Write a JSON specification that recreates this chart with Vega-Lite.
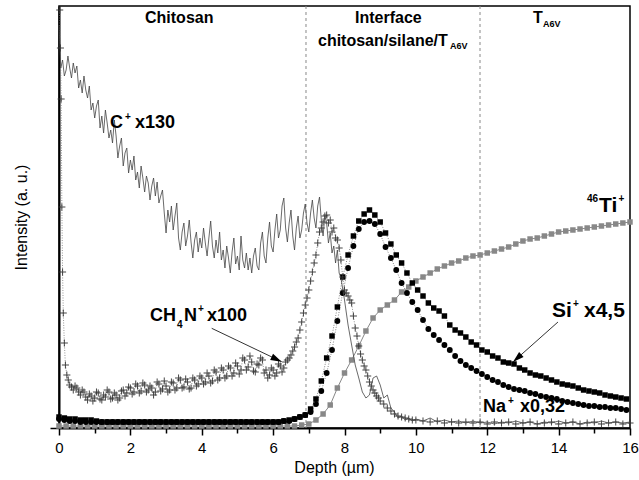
{
"$schema":"https://vega.github.io/schema/vega-lite/v6.json",
"width":571,"height":422,
"autosize":{"type":"none"},
"padding":{"left":59,"top":6,"right":9,"bottom":52},
"background":"white",
"config":{"view":{"stroke":"black","strokeWidth":1.5},"font":"Liberation Sans","text":{"font":"Liberation Sans"}},
"datasets":{
"cplus":[{"x":0,"y":403},{"x":0.05,"y":360},{"x":0.1,"y":368},{"x":0.15,"y":352},{"x":0.2,"y":358},{"x":0.25,"y":372},{"x":0.3,"y":360},{"x":0.35,"y":350},{"x":0.4,"y":365},{"x":0.45,"y":355},{"x":0.5,"y":362},{"x":0.55,"y":340},{"x":0.6,"y":348},{"x":0.65,"y":335},{"x":0.7,"y":352},{"x":0.75,"y":338},{"x":0.8,"y":330},{"x":0.85,"y":342},{"x":0.9,"y":318},{"x":0.95,"y":325},{"x":1.0,"y":310},{"x":1.05,"y":322},{"x":1.1,"y":328},{"x":1.15,"y":300},{"x":1.2,"y":312},{"x":1.25,"y":295},{"x":1.3,"y":318},{"x":1.35,"y":305},{"x":1.4,"y":290},{"x":1.45,"y":298},{"x":1.5,"y":285},{"x":1.55,"y":308},{"x":1.6,"y":292},{"x":1.65,"y":270},{"x":1.7,"y":282},{"x":1.75,"y":290},{"x":1.8,"y":262},{"x":1.85,"y":275},{"x":1.9,"y":280},{"x":1.95,"y":255},{"x":2.0,"y":268},{"x":2.05,"y":258},{"x":2.1,"y":272},{"x":2.15,"y":248},{"x":2.2,"y":256},{"x":2.25,"y":240},{"x":2.3,"y":262},{"x":2.35,"y":250},{"x":2.4,"y":236},{"x":2.45,"y":252},{"x":2.5,"y":245},{"x":2.55,"y":228},{"x":2.6,"y":242},{"x":2.65,"y":250},{"x":2.7,"y":232},{"x":2.75,"y":246},{"x":2.8,"y":225},{"x":2.85,"y":232},{"x":2.9,"y":238},{"x":2.95,"y":215},{"x":3.0,"y":195},{"x":3.05,"y":218},{"x":3.1,"y":206},{"x":3.15,"y":222},{"x":3.2,"y":198},{"x":3.25,"y":212},{"x":3.3,"y":225},{"x":3.35,"y":190},{"x":3.4,"y":178},{"x":3.45,"y":196},{"x":3.5,"y":205},{"x":3.55,"y":182},{"x":3.6,"y":192},{"x":3.65,"y":208},{"x":3.7,"y":186},{"x":3.75,"y":170},{"x":3.8,"y":188},{"x":3.85,"y":196},{"x":3.9,"y":176},{"x":3.95,"y":190},{"x":4.0,"y":180},{"x":4.05,"y":200},{"x":4.1,"y":185},{"x":4.15,"y":172},{"x":4.2,"y":190},{"x":4.25,"y":207},{"x":4.3,"y":182},{"x":4.35,"y":170},{"x":4.4,"y":188},{"x":4.45,"y":175},{"x":4.5,"y":196},{"x":4.55,"y":168},{"x":4.6,"y":178},{"x":4.65,"y":160},{"x":4.7,"y":182},{"x":4.75,"y":170},{"x":4.8,"y":155},{"x":4.85,"y":176},{"x":4.9,"y":190},{"x":4.95,"y":164},{"x":5.0,"y":172},{"x":5.05,"y":158},{"x":5.1,"y":192},{"x":5.15,"y":168},{"x":5.2,"y":160},{"x":5.25,"y":175},{"x":5.3,"y":158},{"x":5.35,"y":170},{"x":5.4,"y":155},{"x":5.45,"y":172},{"x":5.5,"y":180},{"x":5.55,"y":162},{"x":5.6,"y":158},{"x":5.65,"y":185},{"x":5.7,"y":196},{"x":5.75,"y":172},{"x":5.8,"y":165},{"x":5.85,"y":190},{"x":5.9,"y":206},{"x":5.95,"y":182},{"x":6.0,"y":176},{"x":6.05,"y":198},{"x":6.1,"y":214},{"x":6.15,"y":190},{"x":6.2,"y":198},{"x":6.25,"y":222},{"x":6.3,"y":230},{"x":6.35,"y":200},{"x":6.4,"y":186},{"x":6.45,"y":205},{"x":6.5,"y":218},{"x":6.55,"y":192},{"x":6.6,"y":178},{"x":6.65,"y":200},{"x":6.7,"y":212},{"x":6.75,"y":190},{"x":6.8,"y":198},{"x":6.85,"y":215},{"x":6.9,"y":224},{"x":6.95,"y":205},{"x":7.0,"y":196},{"x":7.05,"y":215},{"x":7.1,"y":228},{"x":7.15,"y":210},{"x":7.2,"y":200},{"x":7.25,"y":222},{"x":7.3,"y":231},{"x":7.35,"y":208},{"x":7.4,"y":192},{"x":7.45,"y":212},{"x":7.5,"y":205},{"x":7.55,"y":185},{"x":7.6,"y":195},{"x":7.65,"y":175},{"x":7.7,"y":182},{"x":7.75,"y":165},{"x":7.8,"y":178},{"x":7.85,"y":155},{"x":7.9,"y":150},{"x":8.0,"y":128},{"x":8.1,"y":103},{"x":8.2,"y":83},{"x":8.3,"y":63},{"x":8.4,"y":50},{"x":8.5,"y":36},{"x":8.6,"y":30},{"x":8.7,"y":33},{"x":8.8,"y":50},{"x":8.9,"y":52},{"x":9.0,"y":43},{"x":9.1,"y":30},{"x":9.2,"y":33},{"x":9.3,"y":20},{"x":9.4,"y":16},{"x":9.5,"y":10},{"x":9.6,"y":12},{"x":9.7,"y":8},{"x":9.8,"y":10},{"x":9.9,"y":7},{"x":10.0,"y":9},{"x":10.2,"y":7},{"x":10.4,"y":10},{"x":10.6,"y":6},{"x":10.8,"y":8},{"x":11.0,"y":6},{"x":11.2,"y":7},{"x":11.4,"y":5},{"x":11.6,"y":7},{"x":11.8,"y":5},{"x":12.0,"y":6},{"x":12.2,"y":4},{"x":12.4,"y":6},{"x":12.6,"y":5},{"x":12.8,"y":7},{"x":13.0,"y":5},{"x":13.2,"y":6},{"x":13.4,"y":4},{"x":13.6,"y":6},{"x":13.8,"y":5},{"x":14.0,"y":7},{"x":14.2,"y":5},{"x":14.4,"y":6},{"x":14.6,"y":4},{"x":14.8,"y":6},{"x":15.0,"y":5},{"x":15.2,"y":7},{"x":15.4,"y":5},{"x":15.6,"y":6},{"x":15.8,"y":5},{"x":16.0,"y":6}],
"ch4n":[{"x":0.02,"y":418},{"x":0.04,"y":380},{"x":0.06,"y":329},{"x":0.08,"y":221},{"x":0.1,"y":156},{"x":0.12,"y":115},{"x":0.15,"y":85},{"x":0.18,"y":63},{"x":0.22,"y":53},{"x":0.26,"y":48},{"x":0.3,"y":43},{"x":0.35,"y":41},{"x":0.4,"y":38},{"x":0.45,"y":42},{"x":0.5,"y":40},{"x":0.55,"y":36},{"x":0.6,"y":33},{"x":0.65,"y":38},{"x":0.7,"y":36},{"x":0.75,"y":31},{"x":0.8,"y":28},{"x":0.85,"y":34},{"x":0.9,"y":32},{"x":0.95,"y":27},{"x":1.0,"y":30},{"x":1.05,"y":36},{"x":1.1,"y":35},{"x":1.15,"y":29},{"x":1.2,"y":28},{"x":1.25,"y":33},{"x":1.3,"y":31},{"x":1.35,"y":38},{"x":1.4,"y":36},{"x":1.45,"y":29},{"x":1.5,"y":30},{"x":1.55,"y":35},{"x":1.6,"y":33},{"x":1.65,"y":28},{"x":1.7,"y":30},{"x":1.75,"y":37},{"x":1.8,"y":38},{"x":1.85,"y":32},{"x":1.9,"y":35},{"x":1.95,"y":41},{"x":2.0,"y":40},{"x":2.05,"y":34},{"x":2.1,"y":36},{"x":2.15,"y":44},{"x":2.2,"y":42},{"x":2.25,"y":35},{"x":2.3,"y":37},{"x":2.35,"y":45},{"x":2.4,"y":43},{"x":2.45,"y":36},{"x":2.5,"y":38},{"x":2.55,"y":42},{"x":2.6,"y":40},{"x":2.65,"y":33},{"x":2.7,"y":36},{"x":2.75,"y":46},{"x":2.8,"y":44},{"x":2.85,"y":37},{"x":2.9,"y":39},{"x":2.95,"y":47},{"x":3.0,"y":42},{"x":3.05,"y":36},{"x":3.1,"y":38},{"x":3.15,"y":46},{"x":3.2,"y":45},{"x":3.25,"y":38},{"x":3.3,"y":40},{"x":3.35,"y":50},{"x":3.4,"y":48},{"x":3.45,"y":40},{"x":3.5,"y":41},{"x":3.55,"y":49},{"x":3.6,"y":46},{"x":3.65,"y":39},{"x":3.7,"y":40},{"x":3.75,"y":50},{"x":3.8,"y":48},{"x":3.85,"y":42},{"x":3.9,"y":44},{"x":3.95,"y":52},{"x":4.0,"y":50},{"x":4.05,"y":44},{"x":4.1,"y":46},{"x":4.15,"y":55},{"x":4.2,"y":52},{"x":4.25,"y":45},{"x":4.3,"y":47},{"x":4.35,"y":58},{"x":4.4,"y":56},{"x":4.45,"y":48},{"x":4.5,"y":50},{"x":4.55,"y":60},{"x":4.6,"y":58},{"x":4.65,"y":50},{"x":4.7,"y":52},{"x":4.75,"y":62},{"x":4.8,"y":60},{"x":4.85,"y":52},{"x":4.9,"y":55},{"x":4.95,"y":65},{"x":5.0,"y":62},{"x":5.05,"y":54},{"x":5.1,"y":58},{"x":5.15,"y":70},{"x":5.2,"y":68},{"x":5.25,"y":58},{"x":5.3,"y":61},{"x":5.35,"y":72},{"x":5.4,"y":66},{"x":5.45,"y":57},{"x":5.5,"y":56},{"x":5.55,"y":64},{"x":5.6,"y":63},{"x":5.65,"y":70},{"x":5.7,"y":68},{"x":5.75,"y":55},{"x":5.8,"y":58},{"x":5.85,"y":50},{"x":5.9,"y":53},{"x":5.95,"y":60},{"x":6.0,"y":58},{"x":6.05,"y":52},{"x":6.1,"y":55},{"x":6.15,"y":64},{"x":6.2,"y":62},{"x":6.25,"y":56},{"x":6.3,"y":60},{"x":6.35,"y":66},{"x":6.4,"y":68},{"x":6.45,"y":70},{"x":6.5,"y":73},{"x":6.55,"y":77},{"x":6.6,"y":81},{"x":6.65,"y":86},{"x":6.7,"y":90},{"x":6.75,"y":98},{"x":6.8,"y":106},{"x":6.85,"y":115},{"x":6.9,"y":123},{"x":6.95,"y":130},{"x":7.0,"y":138},{"x":7.05,"y":147},{"x":7.1,"y":156},{"x":7.15,"y":165},{"x":7.2,"y":173},{"x":7.25,"y":185},{"x":7.3,"y":196},{"x":7.35,"y":200},{"x":7.4,"y":206},{"x":7.45,"y":212},{"x":7.5,"y":213},{"x":7.55,"y":205},{"x":7.6,"y":208},{"x":7.65,"y":196},{"x":7.7,"y":200},{"x":7.75,"y":190},{"x":7.8,"y":188},{"x":7.85,"y":180},{"x":7.9,"y":168},{"x":7.95,"y":151},{"x":8.0,"y":138},{"x":8.05,"y":135},{"x":8.1,"y":132},{"x":8.15,"y":128},{"x":8.2,"y":125},{"x":8.25,"y":112},{"x":8.3,"y":100},{"x":8.35,"y":92},{"x":8.4,"y":82},{"x":8.45,"y":74},{"x":8.5,"y":68},{"x":8.55,"y":62},{"x":8.6,"y":58},{"x":8.65,"y":52},{"x":8.7,"y":46},{"x":8.75,"y":42},{"x":8.8,"y":38},{"x":8.85,"y":35},{"x":8.9,"y":32},{"x":8.95,"y":30},{"x":9.0,"y":27},{"x":9.1,"y":24},{"x":9.2,"y":20},{"x":9.3,"y":17},{"x":9.4,"y":14},{"x":9.5,"y":12},{"x":9.6,"y":11},{"x":9.7,"y":10},{"x":9.8,"y":9},{"x":9.9,"y":8},{"x":10.0,"y":8},{"x":10.2,"y":7},{"x":10.4,"y":6},{"x":10.6,"y":7},{"x":10.8,"y":5},{"x":11.0,"y":6},{"x":11.2,"y":5},{"x":11.4,"y":6},{"x":11.6,"y":5},{"x":11.8,"y":6},{"x":12.0,"y":4},{"x":12.2,"y":6},{"x":12.4,"y":5},{"x":12.6,"y":6},{"x":12.8,"y":4},{"x":13.0,"y":5},{"x":13.2,"y":6},{"x":13.4,"y":4},{"x":13.6,"y":5},{"x":13.8,"y":6},{"x":14.0,"y":4},{"x":14.2,"y":5},{"x":14.4,"y":6},{"x":14.6,"y":4},{"x":14.8,"y":5},{"x":15.0,"y":6},{"x":15.2,"y":4},{"x":15.4,"y":5},{"x":15.6,"y":6},{"x":15.8,"y":4},{"x":16.0,"y":5}],
"si":[{"x":0,"y":11},{"x":0.15,"y":10},{"x":0.3,"y":9},{"x":0.45,"y":9},{"x":0.6,"y":8},{"x":0.75,"y":8},{"x":0.9,"y":8},{"x":1.05,"y":7},{"x":1.2,"y":6},{"x":1.35,"y":6},{"x":1.5,"y":6},{"x":1.65,"y":6},{"x":1.8,"y":6},{"x":1.95,"y":6},{"x":2.1,"y":6},{"x":2.25,"y":6},{"x":2.4,"y":6},{"x":2.55,"y":6},{"x":2.7,"y":6},{"x":2.85,"y":6},{"x":3.0,"y":6},{"x":3.15,"y":6},{"x":3.3,"y":6},{"x":3.45,"y":6},{"x":3.6,"y":6},{"x":3.75,"y":6},{"x":3.9,"y":6},{"x":4.05,"y":6},{"x":4.2,"y":6},{"x":4.35,"y":6},{"x":4.5,"y":6},{"x":4.65,"y":6},{"x":4.8,"y":6},{"x":4.95,"y":6},{"x":5.1,"y":6},{"x":5.25,"y":6},{"x":5.4,"y":6},{"x":5.55,"y":6},{"x":5.7,"y":6},{"x":5.85,"y":6},{"x":6.0,"y":6},{"x":6.15,"y":6},{"x":6.3,"y":7},{"x":6.45,"y":8},{"x":6.6,"y":9},{"x":6.75,"y":11},{"x":6.9,"y":13},{"x":7.05,"y":19},{"x":7.2,"y":29},{"x":7.35,"y":47},{"x":7.5,"y":70},{"x":7.65,"y":92},{"x":7.8,"y":121},{"x":7.95,"y":151},{"x":8.1,"y":173},{"x":8.25,"y":192},{"x":8.4,"y":207},{"x":8.55,"y":214},{"x":8.7,"y":218},{"x":8.85,"y":213},{"x":9.0,"y":206},{"x":9.15,"y":195},{"x":9.3,"y":184},{"x":9.45,"y":173},{"x":9.6,"y":165},{"x":9.75,"y":155},{"x":9.9,"y":145},{"x":10.05,"y":138},{"x":10.2,"y":132},{"x":10.35,"y":125},{"x":10.5,"y":120},{"x":10.65,"y":117},{"x":10.8,"y":112},{"x":10.95,"y":103},{"x":11.1,"y":98},{"x":11.25,"y":95},{"x":11.4,"y":91},{"x":11.55,"y":86},{"x":11.7,"y":83},{"x":11.85,"y":78},{"x":12.0,"y":76},{"x":12.15,"y":72},{"x":12.3,"y":70},{"x":12.45,"y":66},{"x":12.6,"y":65},{"x":12.75,"y":64},{"x":12.9,"y":60},{"x":13.05,"y":58},{"x":13.2,"y":55},{"x":13.35,"y":53},{"x":13.5,"y":52},{"x":13.65,"y":50},{"x":13.8,"y":48},{"x":13.95,"y":46},{"x":14.1,"y":44},{"x":14.25,"y":43},{"x":14.4,"y":42},{"x":14.55,"y":40},{"x":14.7,"y":38},{"x":14.85,"y":37},{"x":15.0,"y":36},{"x":15.15,"y":35},{"x":15.3,"y":33},{"x":15.45,"y":32},{"x":15.6,"y":31},{"x":15.75,"y":30},{"x":15.9,"y":29}],
"na":[{"x":0,"y":9},{"x":0.15,"y":8},{"x":0.3,"y":7},{"x":0.45,"y":7},{"x":0.6,"y":6},{"x":0.75,"y":6},{"x":0.9,"y":6},{"x":1.05,"y":6},{"x":1.2,"y":6},{"x":1.35,"y":6},{"x":1.5,"y":6},{"x":1.65,"y":6},{"x":1.8,"y":6},{"x":1.95,"y":6},{"x":2.1,"y":6},{"x":2.25,"y":6},{"x":2.4,"y":6},{"x":2.55,"y":6},{"x":2.7,"y":6},{"x":2.85,"y":6},{"x":3.0,"y":6},{"x":3.15,"y":6},{"x":3.3,"y":6},{"x":3.45,"y":6},{"x":3.6,"y":6},{"x":3.75,"y":6},{"x":3.9,"y":6},{"x":4.05,"y":6},{"x":4.2,"y":6},{"x":4.35,"y":6},{"x":4.5,"y":6},{"x":4.65,"y":6},{"x":4.8,"y":6},{"x":4.95,"y":6},{"x":5.1,"y":6},{"x":5.25,"y":6},{"x":5.4,"y":6},{"x":5.55,"y":6},{"x":5.7,"y":6},{"x":5.85,"y":6},{"x":6.0,"y":6},{"x":6.15,"y":6},{"x":6.3,"y":7},{"x":6.45,"y":7},{"x":6.6,"y":9},{"x":6.75,"y":11},{"x":6.9,"y":13},{"x":7.05,"y":16},{"x":7.2,"y":24},{"x":7.35,"y":37},{"x":7.5,"y":55},{"x":7.65,"y":78},{"x":7.8,"y":107},{"x":7.95,"y":135},{"x":8.1,"y":160},{"x":8.25,"y":182},{"x":8.4,"y":199},{"x":8.55,"y":206},{"x":8.7,"y":207},{"x":8.85,"y":204},{"x":9.0,"y":194},{"x":9.15,"y":181},{"x":9.3,"y":170},{"x":9.45,"y":158},{"x":9.6,"y":145},{"x":9.75,"y":135},{"x":9.9,"y":126},{"x":10.05,"y":118},{"x":10.2,"y":108},{"x":10.35,"y":99},{"x":10.5,"y":93},{"x":10.65,"y":88},{"x":10.8,"y":83},{"x":10.95,"y":78},{"x":11.1,"y":72},{"x":11.25,"y":67},{"x":11.4,"y":63},{"x":11.55,"y":60},{"x":11.7,"y":57},{"x":11.85,"y":54},{"x":12.0,"y":51},{"x":12.15,"y":48},{"x":12.3,"y":46},{"x":12.45,"y":43},{"x":12.6,"y":41},{"x":12.75,"y":39},{"x":12.9,"y":38},{"x":13.05,"y":37},{"x":13.2,"y":35},{"x":13.35,"y":34},{"x":13.5,"y":32},{"x":13.65,"y":31},{"x":13.8,"y":30},{"x":13.95,"y":29},{"x":14.1,"y":27},{"x":14.25,"y":26},{"x":14.4,"y":25},{"x":14.55,"y":24},{"x":14.7,"y":23},{"x":14.85,"y":22},{"x":15.0,"y":22},{"x":15.15,"y":21},{"x":15.3,"y":21},{"x":15.45,"y":20},{"x":15.6,"y":20},{"x":15.75,"y":19},{"x":15.9,"y":18}],
"ti":[{"x":0,"y":2},{"x":0.2,"y":2},{"x":0.4,"y":2},{"x":0.6,"y":2},{"x":0.8,"y":2},{"x":1.0,"y":2},{"x":1.2,"y":2},{"x":1.4,"y":2},{"x":1.6,"y":2},{"x":1.8,"y":2},{"x":2.0,"y":2},{"x":2.2,"y":2},{"x":2.4,"y":2},{"x":2.6,"y":2},{"x":2.8,"y":2},{"x":3.0,"y":2},{"x":3.2,"y":2},{"x":3.4,"y":2},{"x":3.6,"y":2},{"x":3.8,"y":2},{"x":4.0,"y":2},{"x":4.2,"y":2},{"x":4.4,"y":2},{"x":4.6,"y":2},{"x":4.8,"y":2},{"x":5.0,"y":2},{"x":5.2,"y":2},{"x":5.4,"y":2},{"x":5.6,"y":2},{"x":5.8,"y":2},{"x":6.0,"y":2},{"x":6.2,"y":2},{"x":6.4,"y":2},{"x":6.6,"y":2},{"x":6.8,"y":3},{"x":7.0,"y":4},{"x":7.2,"y":8},{"x":7.4,"y":14},{"x":7.6,"y":23},{"x":7.8,"y":40},{"x":8.0,"y":55},{"x":8.2,"y":68},{"x":8.4,"y":82},{"x":8.6,"y":97},{"x":8.8,"y":110},{"x":9.0,"y":118},{"x":9.2,"y":123},{"x":9.4,"y":128},{"x":9.6,"y":136},{"x":9.8,"y":141},{"x":10.0,"y":147},{"x":10.2,"y":151},{"x":10.4,"y":155},{"x":10.6,"y":159},{"x":10.8,"y":162},{"x":11.0,"y":165},{"x":11.2,"y":167},{"x":11.4,"y":170},{"x":11.6,"y":172},{"x":11.8,"y":173},{"x":12.0,"y":175},{"x":12.2,"y":177},{"x":12.4,"y":179},{"x":12.6,"y":181},{"x":12.8,"y":184},{"x":13.0,"y":187},{"x":13.2,"y":189},{"x":13.4,"y":190},{"x":13.6,"y":192},{"x":13.8,"y":194},{"x":14.0,"y":196},{"x":14.2,"y":197},{"x":14.4,"y":198},{"x":14.6,"y":199},{"x":14.8,"y":200},{"x":15.0,"y":201},{"x":15.2,"y":202},{"x":15.4,"y":203},{"x":15.6,"y":204},{"x":15.8,"y":205},{"x":16.0,"y":206}]
},
"layer":[
{"data":{"values":[{"x":6.921},{"x":11.797}]},"mark":{"type":"rule","color":"#888888","strokeWidth":1,"strokeDash":[3,3]},"encoding":{"x":{"field":"x","type":"quantitative","scale":{"domain":[0,16],"nice":false,"zero":false},
"axis":{"title":"Depth (µm)","values":[0,1,2,3,4,5,6,7,8,9,10,11,12,13,14,15,16],"labelExpr":"datum.value % 2 === 0 ? datum.label : ''","labelOverlap":false,"labelFlush":false,"grid":false,"domainColor":"black","domainWidth":2,"tickColor":"black","tickWidth":1.5,"tickSize":{"condition":{"test":"datum.value % 2 === 0","value":7},"value":5},"labelFont":"Liberation Sans","labelFontSize":15,"labelColor":"black","labelPadding":5,"titleFont":"Liberation Sans","titleFontSize":16,"titleFontWeight":"normal","titleColor":"black","titleX":275,"titleY":31}}}},
{
"encoding":{
"x":{"field":"x","type":"quantitative","scale":{"domain":[0,16],"nice":false,"zero":false},
"axis":{"title":"Depth (µm)","values":[0,1,2,3,4,5,6,7,8,9,10,11,12,13,14,15,16],"labelExpr":"datum.value % 2 === 0 ? datum.label : ''","labelOverlap":false,"labelFlush":false,"grid":false,"domainColor":"black","domainWidth":2,"tickColor":"black","tickWidth":1.5,"tickSize":{"condition":{"test":"datum.value % 2 === 0","value":7},"value":5},"labelFont":"Liberation Sans","labelFontSize":15,"labelColor":"black","labelPadding":5,"titleFont":"Liberation Sans","titleFontSize":16,"titleFontWeight":"normal","titleColor":"black","titleX":275,"titleY":31}},
"y":{"field":"y","type":"quantitative","scale":{"domain":[0,422],"nice":false,"zero":false},
"axis":{"title":"Intensity (a. u.)","values":[0],"labels":false,"grid":false,"domainColor":"black","domainWidth":2,"tickColor":"black","tickWidth":1.5,"tickSize":9,"titleFont":"Liberation Sans","titleFontSize":16,"titleFontWeight":"normal","titleColor":"black","titlePadding":20}}
},
"layer":[
{"data":{"name":"ti"},"mark":{"type":"line","color":"#888888","strokeWidth":1}},
{"data":{"name":"ti"},"mark":{"type":"point","shape":"square","filled":true,"size":30,"color":"#888888","opacity":1}},
{"data":{"name":"na"},"mark":{"type":"line","color":"#666666","strokeWidth":0.8,"strokeDash":[1,1.5]}},
{"data":{"name":"na"},"mark":{"type":"point","shape":"circle","filled":true,"size":34,"color":"black","opacity":1}},
{"data":{"name":"si"},"mark":{"type":"line","color":"#666666","strokeWidth":0.8,"strokeDash":[1,1.5]}},
{"data":{"name":"si"},"mark":{"type":"point","shape":"square","filled":true,"size":30,"color":"black","opacity":1}},
{"data":{"name":"ch4n"},"mark":{"type":"line","color":"#777777","strokeWidth":0.8,"strokeDash":[1,1.5]}},
{"data":{"name":"ch4n"},"mark":{"type":"point","shape":"M-1,0L1,0M0,-1L0,1","filled":false,"size":50,"stroke":"#333333","strokeWidth":1,"opacity":0.9}},
{"data":{"name":"cplus"},"mark":{"type":"line","color":"#444444","strokeWidth":0.8}},
{"data":{"values":[{"x":2.41,"y":405,"t":"Chitosan"},{"x":8.294,"y":405,"t":"Interface"},{"x":7.257,"y":382,"t":"chitosan/silane/T"},{"x":13.282,"y":405,"t":"T"}]},"mark":{"type":"text","align":"left","baseline":"alphabetic","fontSize":16,"fontWeight":"bold","color":"black","font":"Liberation Sans"},"encoding":{"text":{"field":"t"}}},
{"data":{"values":[{"x":10.956,"y":379,"t":"A6V"},{"x":13.562,"y":401,"t":"A6V"}]},"mark":{"type":"text","align":"left","baseline":"alphabetic","fontSize":9,"fontWeight":"bold","color":"black","font":"Liberation Sans"},"encoding":{"text":{"field":"t"}}},
{"data":{"values":[{"x":1.429,"y":300,"t":"C"},{"x":2.13,"y":300,"t":"x130"},{"x":2.55,"y":107,"t":"CH"},{"x":3.503,"y":107,"t":"N"},{"x":4.147,"y":107,"t":"x100"},{"x":11.881,"y":16,"t":"Na"},{"x":12.918,"y":16,"t":"x0,32"}]},"mark":{"type":"text","align":"left","baseline":"alphabetic","fontSize":18,"fontWeight":"bold","color":"black","font":"Liberation Sans"},"encoding":{"text":{"field":"t"}}},
{"data":{"values":[{"x":13.814,"y":111,"t":"Si"},{"x":14.71,"y":111,"t":"x4,5"},{"x":15.131,"y":216,"t":"Ti"}]},"mark":{"type":"text","align":"left","baseline":"alphabetic","fontSize":21,"fontWeight":"bold","color":"black","font":"Liberation Sans"},"encoding":{"text":{"field":"t"}}},
{"data":{"values":[{"x":1.849,"y":308,"t":"+"},{"x":3.306,"y":100,"t":"4"},{"x":3.895,"y":116,"t":"+"},{"x":12.58,"y":24,"t":"+"},{"x":14.40,"y":121,"t":"+"},{"x":14.795,"y":226,"t":"46"},{"x":15.68,"y":226,"t":"+"}]},"mark":{"type":"text","align":"left","baseline":"alphabetic","fontSize":10,"fontWeight":"bold","color":"black","font":"Liberation Sans"},"encoding":{"text":{"field":"t"}}},
{"data":{"values":[{"x":4.279,"y":99.7,"x2":6.24,"y2":66.3},{"x":13.982,"y":106,"x2":12.721,"y2":66}]},"mark":{"type":"rule","color":"#333333","strokeWidth":1},"encoding":{"x2":{"field":"x2"},"y2":{"field":"y2"}}},
{"data":{"values":[{"x":6.24,"y":66.3}]},"mark":{"type":"point","shape":"M0,0L-0.3,1L0.3,1Z","filled":true,"size":500,"color":"black","opacity":1,"angle":115.5}},
{"data":{"values":[{"x":12.721,"y":66}]},"mark":{"type":"point","shape":"M0,0L-0.3,1L0.3,1Z","filled":true,"size":500,"color":"black","opacity":1,"angle":228.4}}
]
}
]
}
